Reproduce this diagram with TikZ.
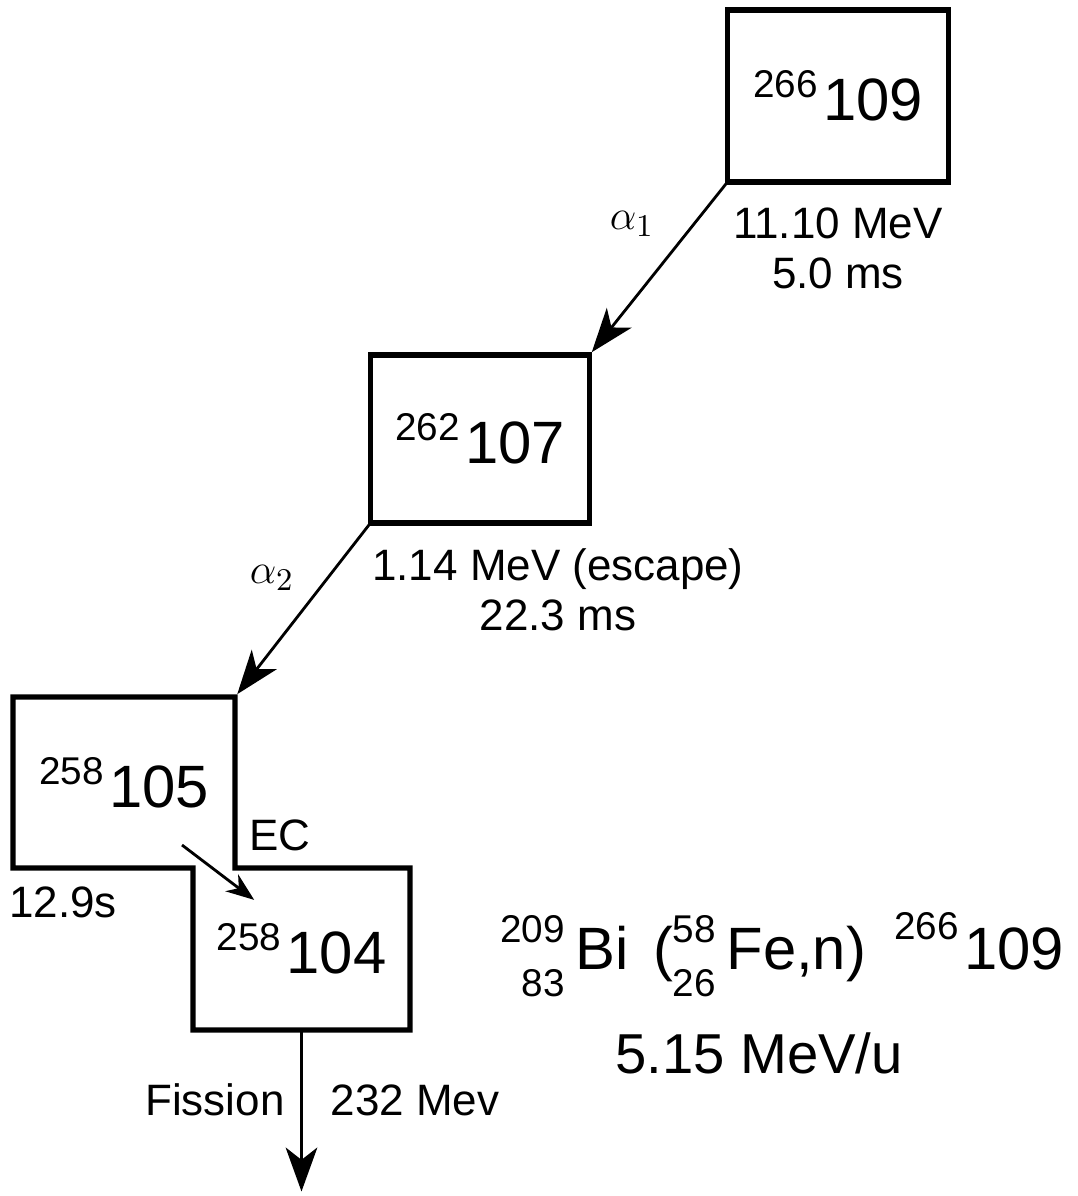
\documentclass[tikz,border=0pt]{standalone}
\usepackage{fontspec}
\setmainfont{Liberation Sans}
\usepackage{tikz}
\usetikzlibrary{arrows.meta,positioning}
\tikzstyle{nucl} = [rectangle, line width=1.5pt, inner sep=0pt, outer sep=0pt, font=\fontsize{17}{20}\selectfont]
\tikzstyle{lbl} = [align=center, font=\fontsize{12.5}{14.2}\selectfont]
\newcommand{\iso}[3][6.5pt]{\raisebox{#1}{\fontsize{11}{13}\selectfont #2}\kern1.5pt#3}
\newcommand{\presc}[2]{\setbox0\hbox{\fontsize{11}{13}\selectfont #1}\setbox2\hbox{\fontsize{11}{13}\selectfont #2}%
  \dimen0=\ifdim\wd0>\wd2 \wd0\else\wd2\fi
  \makebox[\dimen0][r]{\raisebox{7.7pt}{\box0}}\kern-\dimen0\makebox[\dimen0][r]{\raisebox{-7.7pt}{\box2}}\kern3pt}

\begin{document}
\begin{tikzpicture}[x=0.01cm,y=-0.01cm,->,>={Stealth[length=12.5pt,width=9pt,inset=3.5pt]},shorten >=1pt,line width=0.8pt]
  \useasboundingbox (0,0) rectangle (1078,1196);

  \node[nucl,draw,minimum width=2.21cm,minimum height=1.72cm] (n109) at (838,96) {\iso{266}{109}};
  \node[nucl,draw,minimum width=2.19cm,minimum height=1.68cm] (n107) at (480,439) {\iso{262}{107}};
  \node[nucl,minimum width=2.22cm,minimum height=1.71cm] (n105) at (124,782.5) {\iso{258}{105}};
  \node[nucl,minimum width=2.17cm,minimum height=1.62cm] (n104) at (301.5,949) {\iso{258}{104}};
  \draw[-,line width=1.5pt] (n105.north west) -- (n105.north east) -- (n105.south east)
    -- (n104.north east) -- (n104.south east) -- (n104.south west)
    -- (n104.north west) -- (n105.south west) -- cycle;

  \node[lbl] (e109) at (838,248) {11.10 MeV\\5.0 ms};
  \node[lbl] (e107) at (558,590) {1.14 MeV (escape)\\22.3 ms};
  \node[lbl] (t105) at (63,902) {12.9s};
  \node[lbl] (ec) at (280,835) {EC};
  \node[lbl] (fis) at (215,1100) {Fission};
  \node[lbl] (e104) at (415,1100) {232 Mev};
  \node[lbl] (a1) at (632,224) {$\alpha_1$};
  \node[lbl] (a2) at (272,578) {$\alpha_2$};

  \node[font=\fontsize{17}{19}\selectfont] (reac) at (782,955) {\presc{209}{83}Bi\kern7pt(\presc{58}{26}Fe,n)\kern8pt\iso[8.5pt]{266}{109}};
  \node[font=\fontsize{16}{19}\selectfont] (beam) at (759,1053) {5.15 MeV/u};

  \coordinate (ecA) at (182,845);
  \coordinate (ecB) at (257,902);
  \coordinate (fisEnd) at (301.5,1195);

  \path (n109.south west) edge (n107.north east);
  \path (n107.south west) edge (n105.north east);
  \path[>={Stealth[length=8pt,width=6pt,inset=2.5pt]}] (ecA) edge (ecB);
  \path (n104.south) edge (fisEnd);
\end{tikzpicture}
\end{document}
